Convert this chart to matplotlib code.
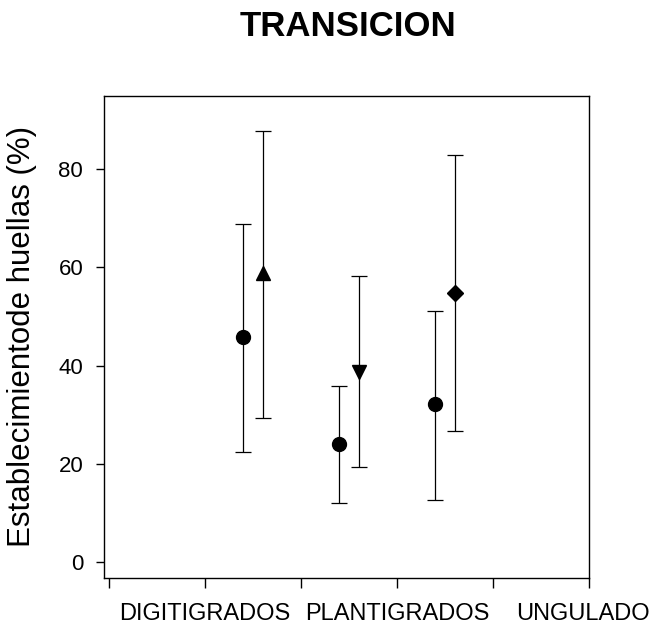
import matplotlib
matplotlib.use("Agg")
import matplotlib.pyplot as plt
from matplotlib.transforms import ScaledTranslation

# Data (percent)
categories = ["DIGITIGRADOS", "PLANTIGRADOS", "UNGULADO"]
label_pos = [1, 3, 5]
group_x = [1.5, 2.5, 3.5]

# first series (circles) in each group
circle_mean = [45.8, 24.0, 32.1]
circle_low = [22.4, 12.0, 12.6]
circle_high = [68.8, 35.8, 51.2]

# second series: one marker per group
second_mean = [58.9, 38.6, 54.7]
second_low = [29.3, 19.3, 26.6]
second_high = [87.8, 58.2, 82.8]
second_marker = ["^", "v", "D"]
second_size = [10, 10, 8]

plt.rcParams['font.family'] = ['Liberation Sans', 'DejaVu Sans']

fig = plt.figure(figsize=(6.51, 6.26), dpi=100)
ax = fig.add_axes([0.1598, 0.0772, 0.745, 0.7694])

err_kw = dict(color='black', ecolor='black', elinewidth=0.9, capsize=6,
              capthick=0.9, linestyle='none')

for i in range(len(group_x)):
    x1 = group_x[i] - 0.1
    ax.errorbar(x1, circle_mean[i],
                yerr=[[circle_mean[i] - circle_low[i]], [circle_high[i] - circle_mean[i]]],
                marker='o', markersize=10, **err_kw)
    x2 = group_x[i] + 0.1
    ax.errorbar(x2, second_mean[i],
                yerr=[[second_mean[i] - second_low[i]], [second_high[i] - second_mean[i]]],
                marker=second_marker[i], markersize=second_size[i], **err_kw)

ax.set_xlim(-0.052, 5.0)
ax.set_ylim(-3.2, 94.9)
ax.set_yticks([0, 20, 40, 60, 80])
ax.set_xticks([0, 1, 2, 3, 4, 5])
ax.set_xticklabels(["", categories[0], "", categories[1], "", categories[2]])

ax.tick_params(axis='y', direction='out', length=6, width=1, pad=9, labelsize=16)
ax.tick_params(axis='x', direction='out', length=7, width=1, pad=11, labelsize=17)
for s in ax.spines.values():
    s.set_linewidth(1.0)

# last label sits a little to the left so it stays inside the figure
last = ax.get_xticklabels()[-1]
last.set_transform(last.get_transform() + ScaledTranslation(-6 / 100, 0, fig.dpi_scale_trans))

ax.set_ylabel("Establecimientode huellas (%)", fontsize=22.5, va='center')
ax.yaxis.set_label_coords(-0.169, 0.5)

fig.text(0.534, 1 - 26 / 626, "TRANSICION", fontsize=25, fontweight='bold',
         ha='center', va='center')

fig.savefig("out.png", dpi=100)
